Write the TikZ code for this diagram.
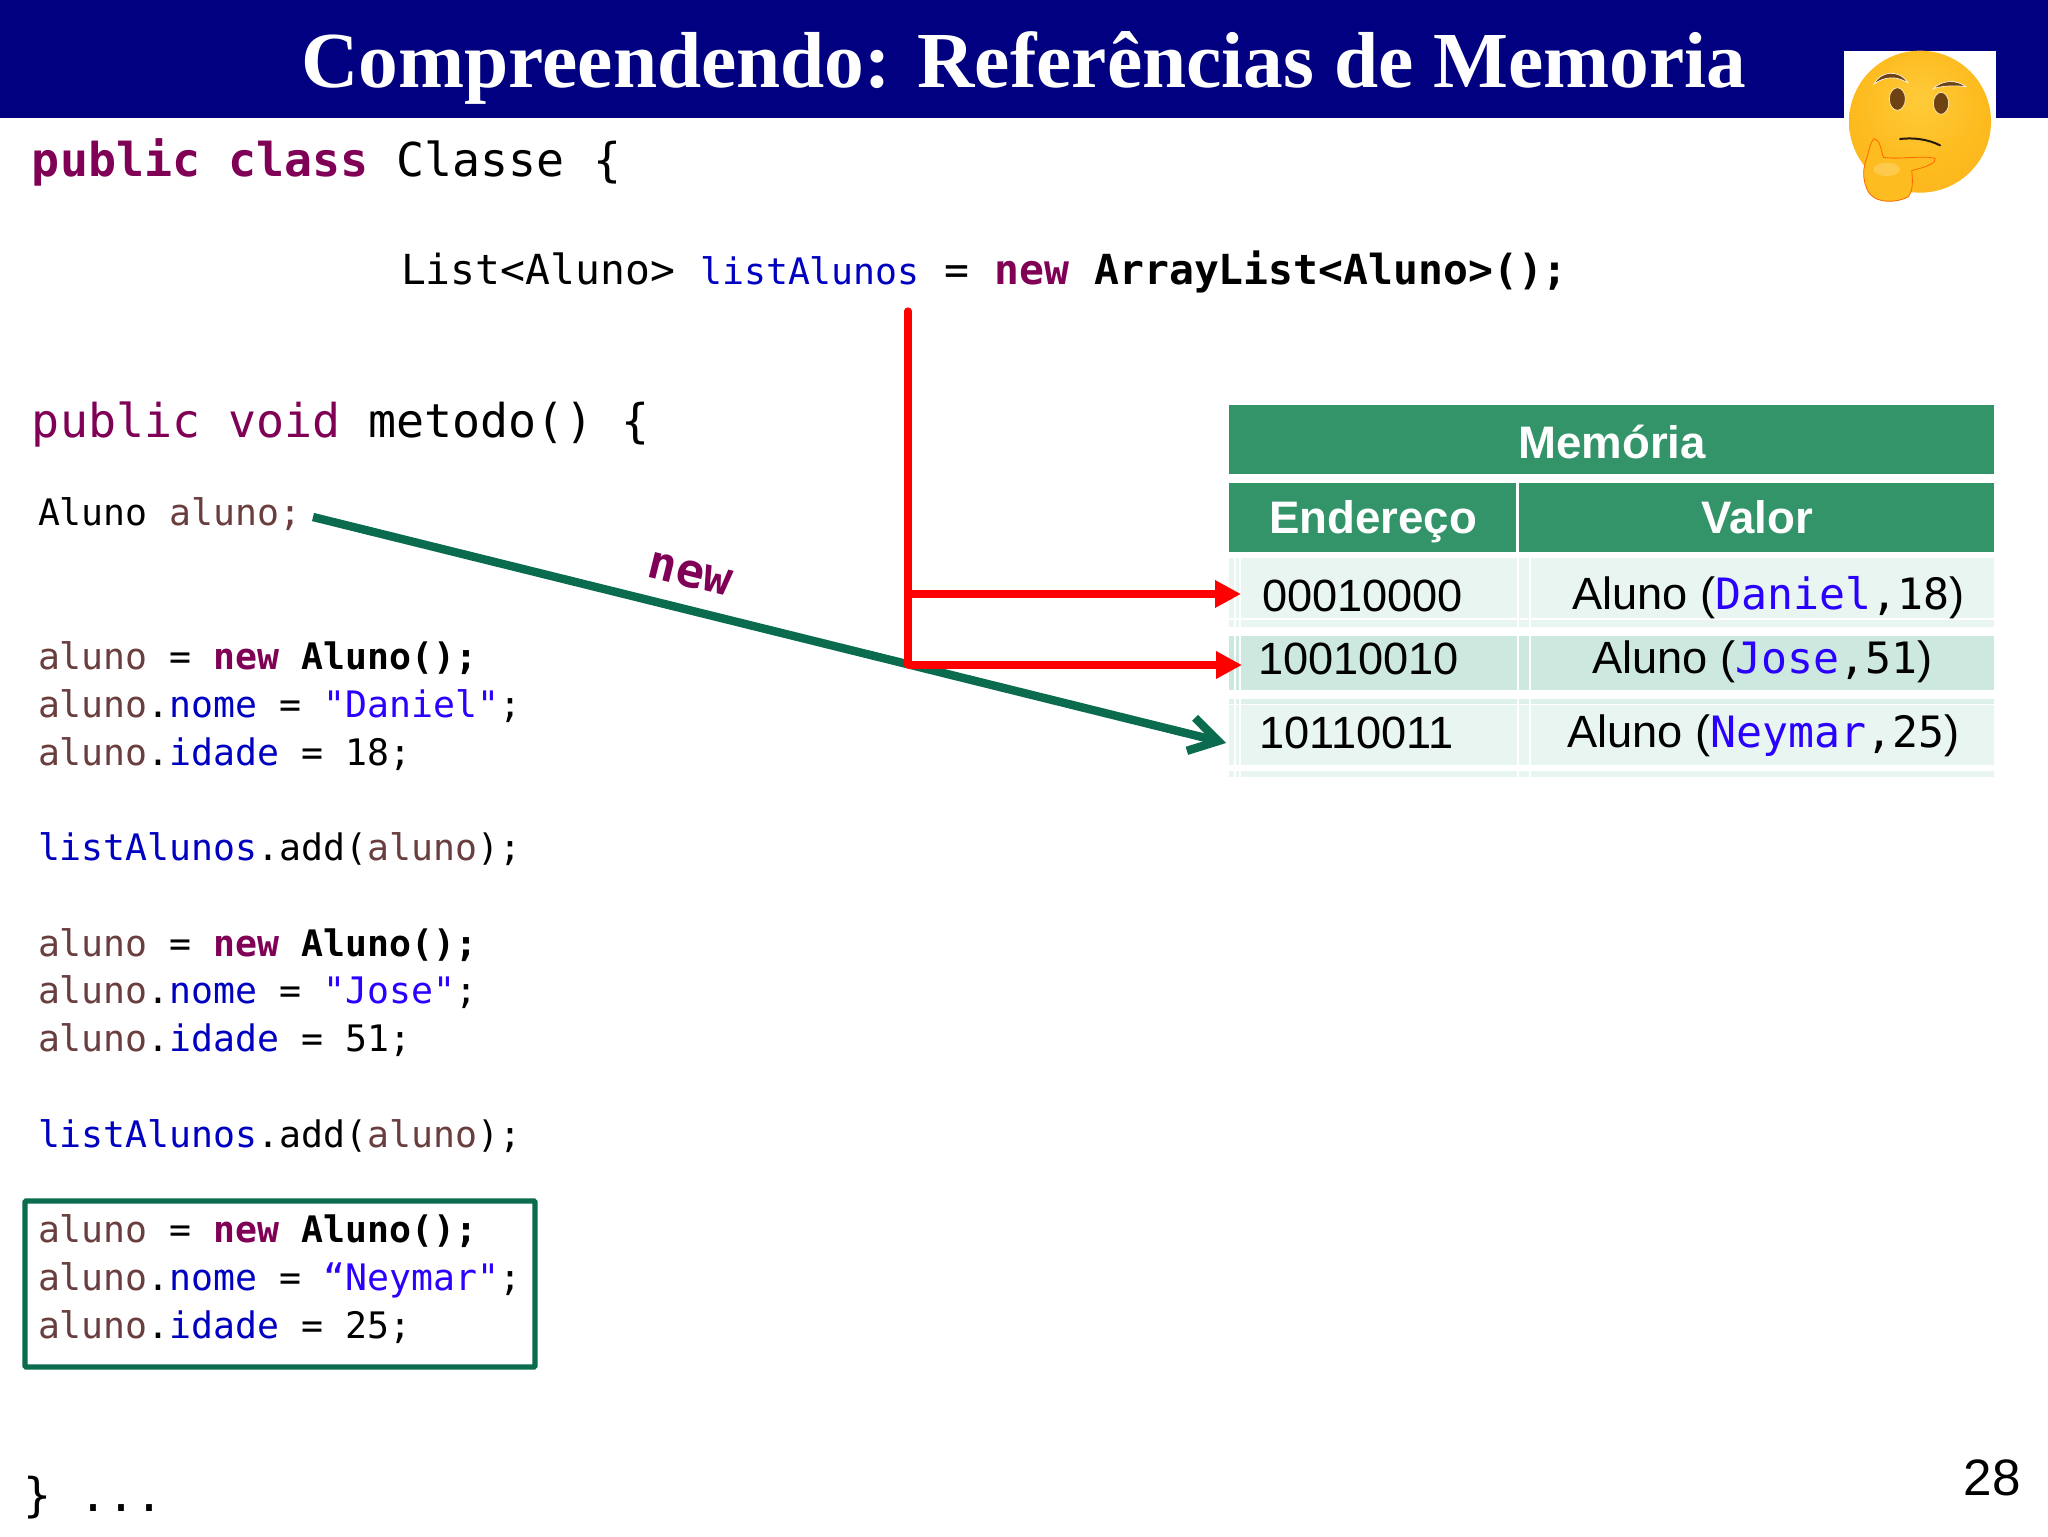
\documentclass[tikz,border=0pt]{standalone}
\usepackage{fontspec}
\usetikzlibrary{arrows.meta}
\setmainfont{Liberation Sans}
\newfontfamily\titlefont{Liberation Serif}
\newfontfamily\codefont{DejaVu Sans Mono}
\definecolor{banner}{HTML}{000080}
\definecolor{kw}{HTML}{7F0055}
\definecolor{var}{HTML}{6A3E3E}
\definecolor{fld}{HTML}{0000C0}
\definecolor{str}{HTML}{2A00FF}
\definecolor{tgreen}{HTML}{339469}
\definecolor{rowa}{HTML}{E8F5F0}
\definecolor{rowb}{HTML}{CDE9DF}
\definecolor{dgreen}{HTML}{0B6B4F}
\definecolor{facein}{HTML}{FDBD20}
\definecolor{facea}{HTML}{FFCB3A}
\definecolor{faceb}{HTML}{FDBB1E}
\definecolor{facec}{HTML}{FAB01E}
\definecolor{faced}{HTML}{EE901E}
\definecolor{brow}{HTML}{6E4213}
\pgfdeclareradialshading{facesh}{\pgfpoint{0bp}{8bp}}{%
  color(0bp)=(facea);
  color(22bp)=(faceb);
  color(44bp)=(facec);
  color(56bp)=(faced);
  color(60bp)=(faced)}
\newcommand{\K}[1]{\textcolor{kw}{\bfseries #1}}
\newcommand{\V}[1]{\textcolor{var}{#1}}
\newcommand{\F}[1]{\textcolor{fld}{#1}}
\newcommand{\St}[1]{\textcolor{str}{#1}}
\newcommand{\Bd}[1]{{\bfseries #1}}
\newcommand{\codeXL}{\codefont\fontsize{23.3pt}{28pt}\selectfont}
\newcommand{\codeL}{\codefont\fontsize{20.7pt}{25pt}\selectfont}
\newcommand{\codeM}{\codefont\fontsize{18.25pt}{22pt}\selectfont}
\newcommand{\codeT}{\codefont\fontsize{21.6pt}{26pt}\selectfont}
\tikzset{
  txt/.style={anchor=base west,inner sep=0pt,outer sep=0pt},
  codeline/.style={txt,font=\codeM},
  headtxt/.style={anchor=base,inner sep=0pt,text=white,font=\fontsize{22.8pt}{28pt}\selectfont\bfseries},
  addrtxt/.style={txt,font=\fontsize{22.6pt}{27pt}\selectfont},
  valtxt/.style={txt,font=\fontsize{22.6pt}{27pt}\selectfont},
  redline/.style={draw=red,line width=3.6pt},
  redarrow/.style={redline,-{Triangle[length=13pt,width=13pt]}},
  greenarrow/.style={draw=dgreen,line width=4.2pt,-{Straight Barb[length=14pt,width=17pt,line width=4.2pt]}},
}
\begin{document}
\begin{tikzpicture}[x=0.5pt,y=-0.5pt]
\useasboundingbox (0,0) rectangle (2048,1536);
\fill[white] (0,0) rectangle (2048,1536);
% banner
\fill[banner] (0,0) rectangle (2048,118);
\node[anchor=base,inner sep=0pt,text=white,font=\titlefont\fontsize{39.7pt}{48pt}\selectfont\bfseries] (title) at (1024,88) {Compreendendo: Referências de Memoria};
% emoji
\fill[white] (1844,51) rectangle (1996,118);
\begin{scope}[xshift=890pt,x=0.16667pt,y=-0.16667pt]
\shade[shading=facesh] (420,365) ellipse [x radius=213,y radius=213];
\filldraw[fill=brow,draw=white,line width=0.3pt] (282,252) .. controls (300,215) and (355,205) .. (383,248) .. controls (350,228) and (315,228) .. (282,252) -- cycle;
\filldraw[fill=brow,draw=white,line width=0.3pt] (460,266) .. controls (485,240) and (530,238) .. (557,260) .. controls (530,256) and (490,256) .. (460,266) -- cycle;
\filldraw[fill=brow,draw=white!60!facein,line width=0.4pt] (352,297) ellipse [x radius=24,y radius=34];
\filldraw[fill=brow,draw=white!60!facein,line width=0.4pt] (483,310) ellipse [x radius=23,y radius=33];
\draw[black!80!brown,line width=1pt,line cap=round] (360,417) .. controls (400,412) and (445,418) .. (480,436);
\filldraw[fill=facein,draw=orange!80!red,line width=0.4pt] (255,490) .. controls (265,465) and (268,430) .. (282,416) .. controls (300,418) and (303,450) .. (310,472) .. controls (360,480) and (420,465) .. (465,475) .. controls (470,490) and (440,500) .. (395,512) .. controls (398,540) and (400,570) .. (385,590) .. controls (350,610) and (280,612) .. (262,570) .. controls (250,545) and (248,515) .. (255,490) -- cycle;
\fill[white,opacity=0.2] (320,508) ellipse [x radius=40,y radius=20];
\end{scope}
% code
\node[txt,font=\codeXL] (c1) at (32,176) {\K{public class} Classe \{};
\node[txt,font=\codeL] (c2) at (401,284) {List<Aluno> {\codeM\F{listAlunos}} = \K{new} \Bd{ArrayList<Aluno>();}};
\node[txt,font=\codeXL] (c3) at (32,437) {\textcolor{kw}{public void} metodo() \{};
\node[codeline] (c4) at (38,525) {Aluno \V{aluno;}};
\node[codeline] (d1) at (38,669) {\V{aluno} = \K{new} \Bd{Aluno();}};
\node[codeline] (d2) at (38,717) {\V{aluno}.\F{nome} = \St{"Daniel"};};
\node[codeline] (d3) at (38,765) {\V{aluno}.\F{idade} = 18;};
\node[codeline] (d4) at (38,860) {\F{listAlunos}.add(\V{aluno});};
\node[codeline] (e1) at (38,956) {\V{aluno} = \K{new} \Bd{Aluno();}};
\node[codeline] (e2) at (38,1003) {\V{aluno}.\F{nome} = \St{"Jose"};};
\node[codeline] (e3) at (38,1051) {\V{aluno}.\F{idade} = 51;};
\node[codeline] (e4) at (38,1147) {\F{listAlunos}.add(\V{aluno});};
\node[codeline] (f1) at (38,1242) {\V{aluno} = \K{new} \Bd{Aluno();}};
\node[codeline] (f2) at (38,1290) {\V{aluno}.\F{nome} = \St{“Neymar"};};
\node[codeline] (f3) at (38,1338) {\V{aluno}.\F{idade} = 25;};
\draw[dgreen,line width=2.6pt,rounded corners=0.5pt] (25,1201) rectangle (535,1367);
\node[txt,font=\codeXL] (endc) at (23,1511) {\} ...};
\node[anchor=base east,inner sep=0pt,font=\fontsize{25.6pt}{31pt}\selectfont] (pg) at (2021,1495) {28};
% table
\fill[tgreen] (1229,405) rectangle (1994,474);
\fill[tgreen] (1229,483) rectangle (1516,552);
\fill[tgreen] (1519,483) rectangle (1994,552);
\fill[rowa] (1229,558) rectangle (1994,627);
\fill[rowb] (1229,636) rectangle (1994,690);
\fill[rowa!60!rowb] (1229,699) rectangle (1994,704);
\fill[rowa] (1229,705) rectangle (1994,765);
\fill[rowa] (1229,771) rectangle (1994,777);
\foreach \xx in {1240,1235,1518,1530}{\fill[white] (\xx-1,558) rectangle (\xx+1,777);}
\fill[white] (1229,618) rectangle (1994,620);
\fill[white] (1229,691) rectangle (1994,698);
\node[headtxt] (mem) at (1612,458) {Memória};
\node[headtxt] (hend) at (1373,533) {Endereço};
\node[headtxt] (hval) at (1757,533) {Valor};
\node[addrtxt] (a1) at (1262,611) {00010000};
\node[addrtxt] (a2) at (1258,674) {10010010};
\node[addrtxt] (a3) at (1259,748) {10110011};
\node[valtxt] (v1) at (1572,609) {Aluno ({\codeT\textcolor{str}{Daniel},18})};
\node[valtxt] (v2) at (1592,673) {Aluno ({\codeT\textcolor{str}{Jose},51})};
\node[valtxt] (v3) at (1567,747) {Aluno ({\codeT\textcolor{str}{Neymar},25})};
% connectors
\coordinate (rtop) at (908,311);
\coordinate (rb1) at (908,594);
\coordinate (rb2) at (908,665);
\coordinate (rt1) at (1241,594);
\coordinate (rt2) at (1242,665);
\coordinate (gs) at (313,517);
\coordinate (gt) at (1226,743);
\draw[greenarrow] (gs) -- (gt);
\draw[redline,line cap=round] (rtop) -- (rb2);
\draw[redarrow] (rb1) -- (rt1);
\draw[redarrow] (rb2) -- (rt2);
\node[inner sep=0pt,rotate=-14,font=\codefont\fontsize{23.5pt}{28pt}\selectfont\bfseries,text=kw] (nw) at (690,574) {new};
\end{tikzpicture}
\end{document}
